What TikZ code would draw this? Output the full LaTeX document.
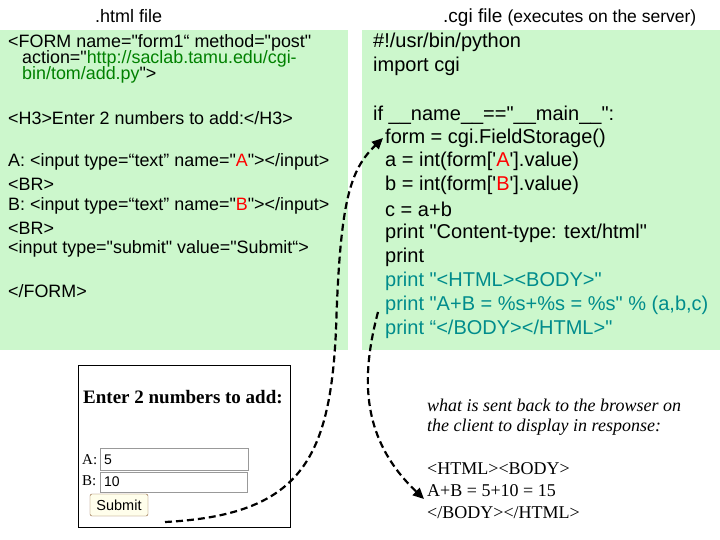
\documentclass[tikz,border=0pt]{standalone}
\usepackage{fontspec}
\setmainfont{Liberation Serif}
\newfontfamily\arial{Liberation Sans}
\usetikzlibrary{arrows.meta}
\definecolor{bg}{HTML}{CCF7CC}
\definecolor{teal2}{HTML}{008C8C}
\definecolor{grn}{HTML}{008000}
\begin{document}
\begin{tikzpicture}[x=1pt,y=-1pt,
  lc/.style={anchor=west,inner sep=0pt,font=\arial\fontsize{17.9}{18}\selectfont},
  rc/.style={anchor=west,inner sep=0pt,font=\arial\fontsize{20}{21}\selectfont},
  sv/.style={anchor=west,inner sep=0pt,font=\fontsize{18}{19}\selectfont},
  flow/.style={line width=2.2pt,dash pattern=on 7pt off 4pt,-{Triangle[length=11pt,width=10pt]}}]
\useasboundingbox (0,0) rectangle (720,540);
\fill[bg] (0,30) rectangle (348,350);
\fill[bg] (362,30) rectangle (720,350);
\node[lc,font=\arial\fontsize{18}{19}\selectfont] (t1) at (95,16) {.html file};
\node[rc,font=\arial\fontsize{19}{20}\selectfont] (t2) at (443,18) {.cgi file \fontsize{17.5}{18}\selectfont(executes on the server)};
% left code
\node[lc] (l1) at (8,43) {<FORM name="form1“ method="post"};
\node[lc] (l2) at (22,59) {action="\textcolor{grn}{http://saclab.tamu.edu/cgi-}};
\node[lc] (l3) at (22,75) {\textcolor{grn}{bin/tom/add.py}">};
\node[lc] (l4) at (8,118) {<H3>Enter 2 numbers to add:</H3>};
\node[lc] (l5) at (8,162) {A: <input type=“text” name="\textcolor{red}{A}"></input>};
\node[lc] (l6) at (8,184) {<BR>};
\node[lc] (l7) at (8,206) {B: <input type=“text” name="\textcolor{red}{B}"></input>};
\node[lc] (l8) at (8,228) {<BR>};
\node[lc] (l9) at (8,249) {<input type="submit" value="Submit“>};
\node[lc] (l10) at (8,291) {</FORM>};
% right code
\node[rc] (r1) at (373,42) {\#!/usr/bin/python};
\node[rc] (r2) at (373,66) {import cgi};
\node[rc] (r3) at (373,115) {if \_\_name\_\_=="\_\_main\_\_":};
\node[rc] (r4) at (385,138) {form = cgi.FieldStorage()};
\node[rc] (r5) at (385,161) {a = int(form['\textcolor{red}{A}'].value)};
\node[rc] (r6) at (385,185) {b = int(form['\textcolor{red}{B}'].value)};
\node[rc] (r7) at (385,209) {c = a+b};
\node[rc] (r8) at (385,233) {print "Content-type: text/html"};
\node[rc] (r9) at (385,257) {print};
\node[rc,text=teal2] (r10) at (385,281) {print "<HTML><BODY>"};
\node[rc,text=teal2] (r11) at (385,305) {print "A+B = \%s+\%s = \%s" \% (a,b,c)};
\node[rc,text=teal2] (r12) at (385,329) {print “</BODY></HTML>"};
% form rendering
\draw[black] (78,365) rectangle (290,527);
\node[anchor=west,inner sep=0pt,font=\bfseries\fontsize{19}{20}\selectfont] (h) at (83,397) {Enter 2 numbers to add:};
\node[anchor=west,inner sep=0pt,font=\fontsize{15}{16}\selectfont] (la) at (82,460) {A:};
\node[anchor=west,inner sep=0pt,font=\fontsize{15}{16}\selectfont] (lb) at (82,481) {B:};
\draw[gray!80] (100,448) rectangle (248,470);
\draw[gray!80] (100,472) rectangle (247,492);
\node[anchor=west,inner sep=0pt,font=\arial\fontsize{14}{15}\selectfont] (va) at (104,460) {5};
\node[anchor=west,inner sep=0pt,font=\arial\fontsize{14}{15}\selectfont] (vb) at (104,482) {10};
\node[draw=brown!70!black,fill=yellow!8,rounded corners=2pt,minimum width=58pt,minimum height=22pt,inner sep=0pt,font=\arial\fontsize{14.5}{15}\selectfont] (sub) at (119,505) {Submit};
% response text
\node[sv,font=\itshape\fontsize{18}{19}\selectfont] (i1) at (427,405) {what is sent back to the browser on};
\node[sv,font=\itshape\fontsize{18}{19}\selectfont] (i2) at (427,427) {the client to display in response:};
\node[sv] (h1) at (427,469) {<HTML><BODY>};
\node[sv] (h2) at (427,491) {A+B = 5+10 = 15};
\node[sv] (h3) at (427,513) {</BODY></HTML>};
\coordinate (s1) at (165,522);
\coordinate (s2) at (378,312);
% arrows
\draw[flow] (s1) .. controls (300,515) and (330,460) .. (336,330) .. controls (340,200) and (350,170) .. ([xshift=-2pt]r4.west);
\draw[flow] (s2) .. controls (360,380) and (362,440) .. ([xshift=-3pt,yshift=-8pt]h2.west);
\end{tikzpicture}
\end{document}
